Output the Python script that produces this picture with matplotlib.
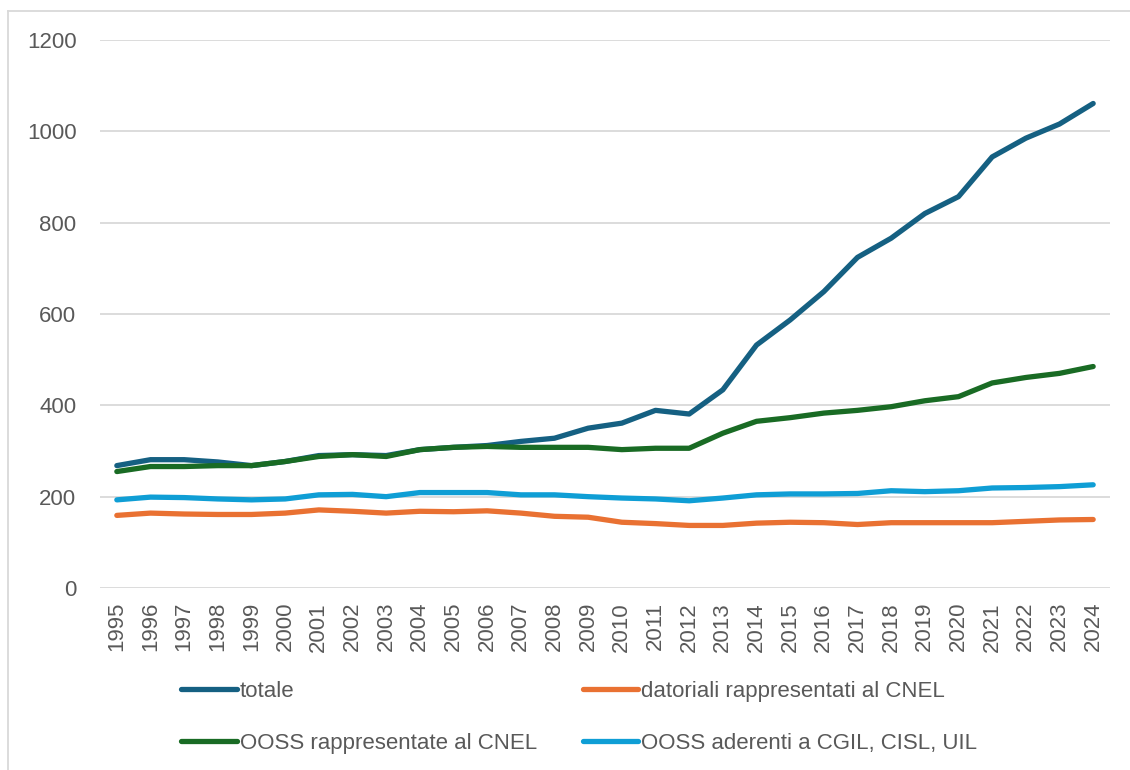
import matplotlib
matplotlib.use("Agg")
import matplotlib.pyplot as plt
from matplotlib.lines import Line2D

years = list(range(1995, 2025))
totale = [268, 281, 281, 276, 268, 277, 290, 292, 290, 303,
          308, 312, 321, 328, 350, 361, 389, 381, 434, 532,
          587, 649, 724, 766, 820, 857, 944, 985, 1016, 1061]
datoriali = [159, 164, 162, 161, 161, 164, 171, 168, 164, 168,
             167, 169, 164, 157, 155, 144, 141, 137, 137, 142,
             144, 143, 139, 143, 143, 143, 143, 146, 149, 150]
ooss_cnel = [255, 266, 266, 268, 268, 277, 288, 292, 288, 303,
             308, 310, 308, 308, 308, 303, 306, 306, 339, 365,
             373, 383, 389, 397, 410, 419, 449, 461, 470, 485]
ooss_confed = [193, 199, 198, 195, 193, 195, 204, 205, 200, 209,
               209, 209, 204, 204, 200, 197, 195, 191, 197, 204,
               206, 206, 207, 213, 211, 213, 219, 220, 222, 226]

labels = ["totale", "datoriali rappresentati al CNEL",
          "OOSS rappresentate al CNEL", "OOSS aderenti a CGIL, CISL, UIL"]
colors = ["#156082", "#E97132", "#196B24", "#0F9ED5"]

plt.rcParams['font.family'] = ['Liberation Sans', 'DejaVu Sans']
W, H = 1130, 770
fig = plt.figure(figsize=(W / 100, H / 100), dpi=100)
ax = fig.add_axes([100 / W, 1 - 588 / H, 1010 / W, 548 / H])

x = list(range(len(years)))
series = [totale, datoriali, ooss_cnel, ooss_confed]
lines = []
for s, c, lab in zip(series, colors, labels):
    ln, = ax.plot(x, s, color=c, lw=3.8, solid_capstyle='round',
                  solid_joinstyle='round', label=lab)
    lines.append(ln)

ax.set_xlim(-0.5, len(years) - 0.5)
ax.set_ylim(0, 1200)
ax.set_yticks(range(0, 1201, 200))
ax.set_xticks(x)
ax.set_xticklabels([str(y) for y in years], rotation=90)
ax.grid(axis='y', color='#D9D9D9', lw=1.3)
ax.set_axisbelow(True)
for sp in ax.spines.values():
    sp.set_visible(False)
ax.tick_params(axis='both', length=0, labelsize=16, colors='#595959')
ax.tick_params(axis='y', pad=17)
ax.tick_params(axis='x', pad=10)

order = [0, 2, 1, 3]
leg = fig.legend([lines[i] for i in order], [labels[i] for i in order],
                 ncol=2, loc='upper left',
                 bbox_to_anchor=(181 / W, 1 - 681 / H),
                 frameon=False, fontsize=16, handlelength=2.5,
                 handletextpad=0.15, columnspacing=2.05, labelspacing=1.4,
                 borderaxespad=0, borderpad=0)
for t in leg.get_texts():
    t.set_color('#595959')

# chart-area border (top and left visible)
fig.add_artist(Line2D([8 / W, 1], [1 - 11 / H, 1 - 11 / H], color='#D9D9D9', lw=1.3))
fig.add_artist(Line2D([8 / W, 8 / W], [0, 1 - 11 / H], color='#D9D9D9', lw=1.3))

fig.savefig("out.png", dpi=100)
